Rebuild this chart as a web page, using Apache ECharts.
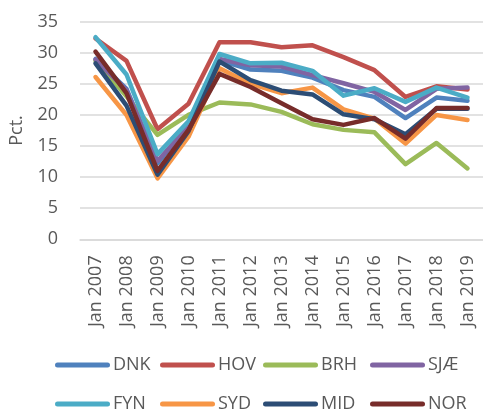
<!DOCTYPE html>
<html>
<head>
<meta charset="utf-8">
<script src="https://cdn.jsdelivr.net/npm/echarts@6/dist/echarts.min.js"></script>
<style>html,body{margin:0;padding:0;background:#fff}#c{width:483px;height:409px}</style>
</head>
<body>
<div id="c"></div>
<script>
const categories = ['Jan 2007','Jan 2008','Jan 2009','Jan 2010','Jan 2011','Jan 2012','Jan 2013','Jan 2014','Jan 2015','Jan 2016','Jan 2017','Jan 2018','Jan 2019'];
const DNK = [29.0, 24.2, 12.2, 18.5, 28.8, 27.3, 27.1, 26.0, 24.0, 22.9, 19.5, 22.8, 22.3];
const HOV = [32.3, 28.7, 17.7, 21.8, 31.7, 31.7, 30.9, 31.2, 29.3, 27.2, 22.9, 24.6, 24.1];
const BRH = [28.7, 23.0, 16.8, 20.0, 22.0, 21.7, 20.5, 18.5, 17.6, 17.2, 12.1, 15.5, 11.4];
const SJAE = [28.9, 24.0, 12.6, 18.2, 29.0, 28.0, 27.8, 26.4, 25.1, 23.7, 20.8, 24.2, 24.4];
const FYN = [32.5, 26.5, 13.7, 19.0, 29.8, 28.3, 28.4, 27.1, 23.1, 24.3, 22.1, 24.4, 22.8];
const SYD = [26.1, 20.0, 9.8, 16.5, 27.5, 25.0, 23.5, 24.4, 20.9, 19.4, 15.4, 20.0, 19.2];
const MID = [28.3, 21.5, 10.4, 17.4, 28.6, 25.6, 23.9, 23.3, 20.1, 19.3, 16.9, 21.0, 21.0];
const NOR = [30.2, 23.5, 11.0, 17.6, 26.6, 24.5, 21.9, 19.3, 18.4, 19.5, 16.2, 21.1, 21.1];
const yTicks = {min: 0, max: 35, interval: 5};
const seriesNames = ['DNK','HOV','BRH','SJÆ','FYN','SYD','MID','NOR'];
const seriesData = [DNK, HOV, BRH, SJAE, FYN, SYD, MID, NOR];
const colors = ['#4F81BD','#C0504D','#9BBB59','#8064A2','#4BACC6','#F79646','#2C4D75','#772C2A'];

const font = 'Open Sans';
const icon = 'path://M2.5,0 L52.5,0 A2.5,2.5 0 0 1 52.5,5 L2.5,5 A2.5,2.5 0 0 1 2.5,0 Z';
const legendLefts = [50, 155, 258, 365];
const legendTops = [351, 390];
const legends = seriesNames.map((n, i) => ({
  left: legendLefts[i % 4], top: legendTops[Math.floor(i / 4)],
  itemWidth: 55, itemHeight: 5, icon: icon, data: [n],
  textStyle: {fontFamily: font, fontSize: 18, color: '#595959', padding: [0, 0, 0, -2]}
}));
const chart = echarts.init(document.getElementById('c'), null, {renderer: 'canvas'});
chart.setOption({
  animation: false,
  color: colors,
  grid: {left: 77, top: 21.7, width: 409, height: 217.6, containLabel: false},
  legend: legends,
  xAxis: {
    type: 'category', data: categories, boundaryGap: true,
    axisLine: {show: true, lineStyle: {color: '#d9d9d9', width: 1.5}},
    axisTick: {show: false},
    axisLabel: {rotate: 90, fontFamily: font, fontSize: 18, color: '#595959', margin: 16, interval: 0}
  },
  yAxis: {
    type: 'value', min: yTicks.min, max: yTicks.max, interval: yTicks.interval,
    name: 'Pct.', nameLocation: 'middle', nameGap: 54, nameRotate: 90,
    nameTextStyle: {fontFamily: font, fontSize: 18, color: '#595959'},
    axisLine: {show: false}, axisTick: {show: false},
    axisLabel: {fontFamily: font, fontSize: 18, color: '#595959', margin: 22},
    splitLine: {lineStyle: {color: '#d9d9d9', width: 1.5}}
  },
  series: seriesNames.map((n, i) => ({
    name: n, type: 'line', data: seriesData[i], showSymbol: false, symbol: 'none',
    lineStyle: {width: 4.5, cap: 'round', join: 'round', color: colors[i]},
    itemStyle: {color: colors[i]}
  }))
});
</script>
</body>
</html>
